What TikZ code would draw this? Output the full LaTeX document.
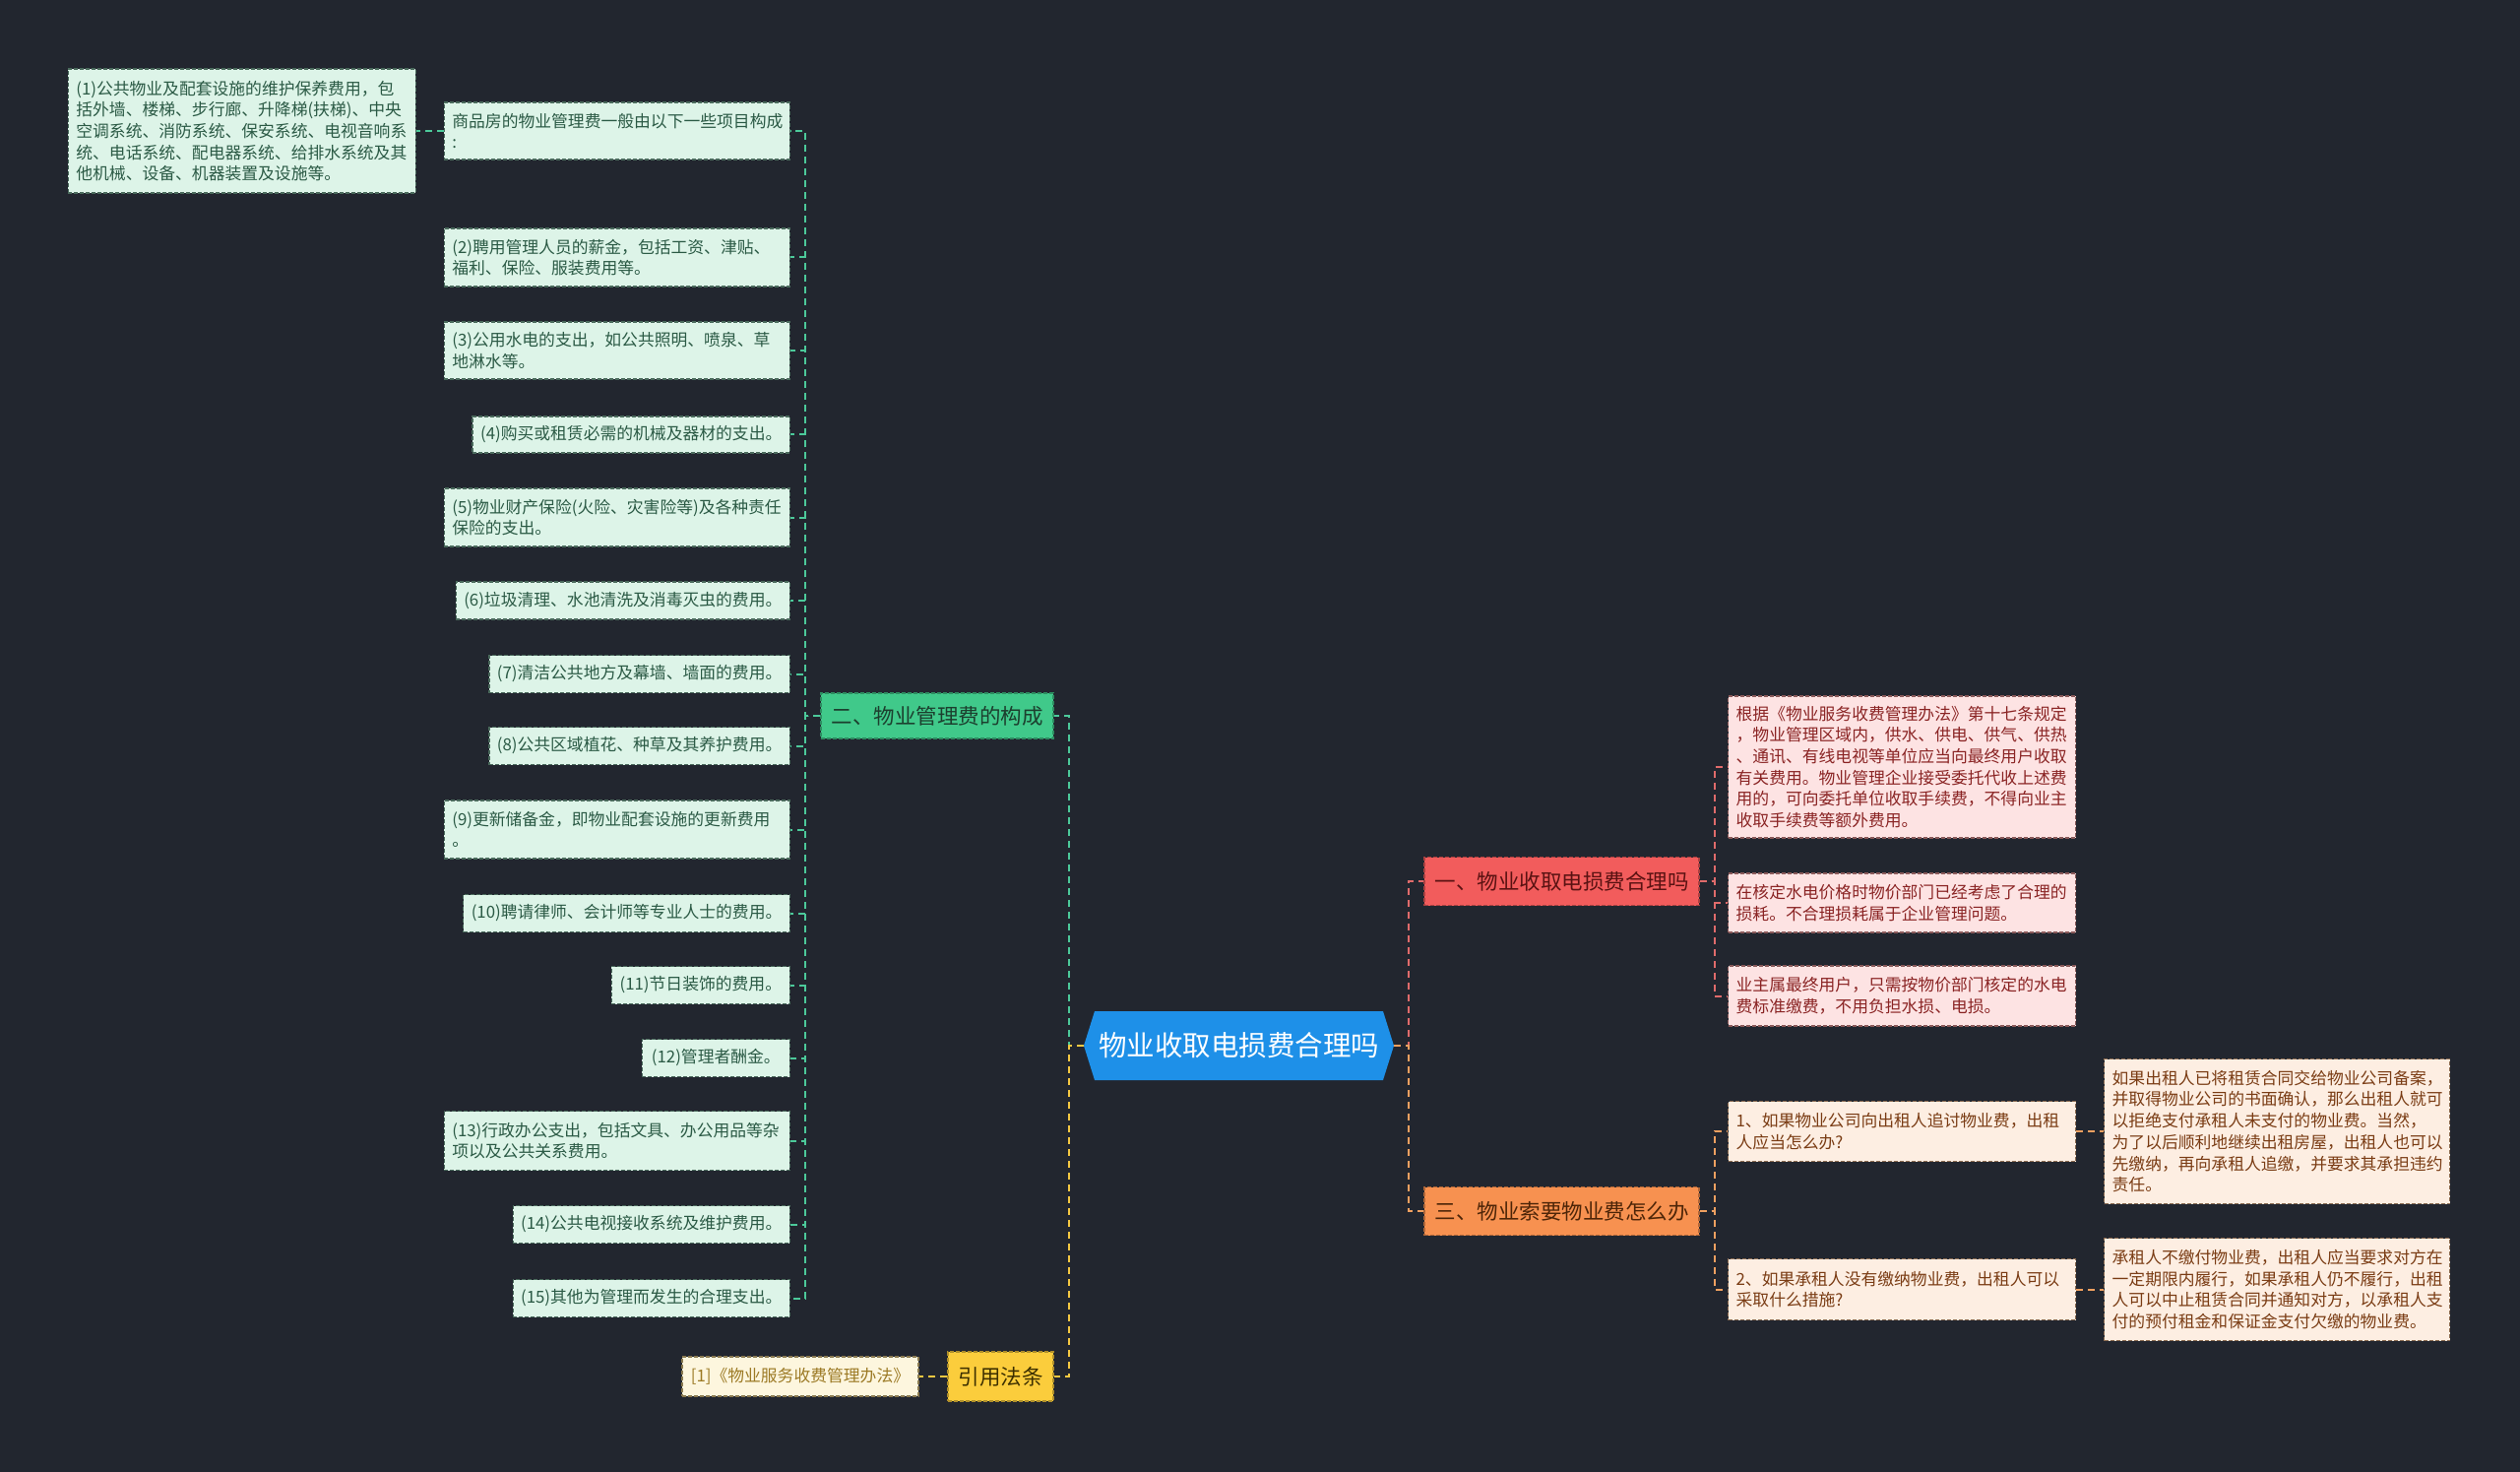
\documentclass[tikz,border=0pt]{standalone}
\usepackage{fontspec}
\setmainfont{Noto Sans CJK SC}
\usetikzlibrary{calc}
\definecolor{bgc}{HTML}{22262F}
\definecolor{rootc}{HTML}{1E90E8}
\definecolor{gfill}{HTML}{DDF4E8}
\definecolor{gtext}{HTML}{2B5A45}
\definecolor{gbd}{HTML}{4A6A5C}
\definecolor{gbrf}{HTML}{40C98A}
\definecolor{gbrt}{HTML}{1C3F2E}
\definecolor{gline}{HTML}{4CC99A}
\definecolor{rbrf}{HTML}{F25C5C}
\definecolor{rbrt}{HTML}{5A1212}
\definecolor{rfill}{HTML}{FDE3E3}
\definecolor{rtext}{HTML}{8A2424}
\definecolor{rbd}{HTML}{8A5A5A}
\definecolor{rline}{HTML}{E06B6B}
\definecolor{obrf}{HTML}{F79150}
\definecolor{obrt}{HTML}{4D2508}
\definecolor{ofill}{HTML}{FDEEE2}
\definecolor{otext}{HTML}{7A3C14}
\definecolor{obd}{HTML}{8A6A50}
\definecolor{oline}{HTML}{F0A060}
\definecolor{ybrf}{HTML}{FBCD3C}
\definecolor{ybrt}{HTML}{3D3000}
\definecolor{yfill}{HTML}{FDF6DE}
\definecolor{ytext}{HTML}{9C7A25}
\definecolor{ybd}{HTML}{8A7A50}
\definecolor{yline}{HTML}{F5C842}
\newcommand\lffont{\fontsize{16.8}{21.7}\selectfont}
\newcommand\brfont{\fontsize{21.5}{26}\selectfont}
\newcommand\rtfont{\fontsize{28.5}{34}\selectfont}
\tikzset{
  leafbox/.style={draw, dash pattern=on 4pt off 2pt, line width=1.3pt, inner xsep=8pt, inner ysep=4pt, align=left, font=\lffont},
  gleaf/.style={leafbox, fill=gfill, draw=gbd, text=gtext},
  rleaf/.style={leafbox, fill=rfill, draw=rbd, text=rtext},
  oleaf/.style={leafbox, fill=ofill, draw=obd, text=otext},
  yleaf/.style={leafbox, fill=yfill, draw=ybd, text=ytext},
  brbox/.style={draw, dash pattern=on 4pt off 2pt, line width=1.3pt, inner sep=6pt, font=\brfont},
  gbranch/.style={brbox, fill=gbrf, draw=gbrf!70!black, text=gbrt},
  rbranch/.style={brbox, fill=rbrf, draw=rbrf!70!black, text=rbrt},
  obranch/.style={brbox, fill=obrf, draw=obrf!70!black, text=obrt},
  ybranch/.style={brbox, fill=ybrf, draw=ybrf!70!black, text=ybrt},
  conn/.style={line width=2pt, dash pattern=on 7pt off 5pt},
  gconn/.style={conn, draw=gline},
  rconn/.style={conn, draw=rline},
  oconn/.style={conn, draw=oline},
  yconn/.style={conn, draw=yline},
}
\begin{document}
\begin{tikzpicture}[x=1pt,y=-1pt]
\fill[bgc] (0,0) rectangle (2560,1495);
\useasboundingbox (0,0) rectangle (2560,1495);

% root
\fill[rootc] (1101,1062) -- (1112,1027) -- (1405,1027) -- (1416,1062) -- (1405,1097) -- (1112,1097) -- cycle;
\node[font=\rtfont, text=white, minimum width=315pt, minimum height=70pt, inner sep=0pt] (root) at (1258.5,1062) {物业收取电损费合理吗};

% branches
\node[gbranch, minimum width=236pt, minimum height=46pt] (gbr) at (952,727) {二、物业管理费的构成};
\node[rbranch, minimum width=279pt, minimum height=49pt] (rbr) at (1586.5,895) {一、物业收取电损费合理吗};
\node[obranch, minimum width=279pt, minimum height=49pt] (obr) at (1586.5,1230) {三、物业索要物业费怎么办};
\node[ybranch, minimum width=107pt, minimum height=50pt] (ybr) at (1016.5,1398) {引用法条};
\node[yleaf, minimum width=240pt, minimum height=40pt] (y1) at (813,1398) {[1]《物业服务收费管理办法》};

% green leaves
\node[gleaf, anchor=east, text width=335pt, minimum height=58pt] (gA) at (803,133) {商品房的物业管理费一般由以下一些项目构成\\:};
\node[gleaf, anchor=east, text width=337pt, minimum height=126pt] (g1) at (423,133) {(1)公共物业及配套设施的维护保养费用，包\\括外墙、楼梯、步行廊、升降梯(扶梯)、中央\\空调系统、消防系统、保安系统、电视音响系\\统、电话系统、配电器系统、给排水系统及其\\他机械、设备、机器装置及设施等。};
\node[gleaf, anchor=east, text width=335pt, minimum height=59pt] (g2) at (803,261.5) {(2)聘用管理人员的薪金，包括工资、津贴、\\福利、保险、服装费用等。};
\node[gleaf, anchor=east, text width=335pt, minimum height=58pt] (g3) at (803,356) {(3)公用水电的支出，如公共照明、喷泉、草\\地淋水等。};
\node[gleaf, anchor=east, minimum width=321pt, minimum height=37pt] (g4) at (803,441.5) {(4)购买或租赁必需的机械及器材的支出。};
\node[gleaf, anchor=east, text width=335pt, minimum height=59pt] (g5) at (803,525.5) {(5)物业财产保险(火险、灾害险等)及各种责任\\保险的支出。};
\node[gleaf, anchor=east, minimum width=338pt, minimum height=38pt] (g6) at (803,610) {(6)垃圾清理、水池清洗及消毒灭虫的费用。};
\node[gleaf, anchor=east, minimum width=305pt, minimum height=38pt] (g7) at (803,684.5) {(7)清洁公共地方及幕墙、墙面的费用。};
\node[gleaf, anchor=east, minimum width=305pt, minimum height=38pt] (g8) at (803,757.5) {(8)公共区域植花、种草及其养护费用。};
\node[gleaf, anchor=east, text width=335pt, minimum height=59pt] (g9) at (803,842.5) {(9)更新储备金，即物业配套设施的更新费用\\。};
\node[gleaf, anchor=east, minimum width=331pt, minimum height=38pt] (g10) at (803,927.5) {(10)聘请律师、会计师等专业人士的费用。};
\node[gleaf, anchor=east, minimum width=181pt, minimum height=38pt] (g11) at (803,1000.5) {(11)节日装饰的费用。};
\node[gleaf, anchor=east, minimum width=150pt, minimum height=38pt] (g12) at (803,1074.5) {(12)管理者酬金。};
\node[gleaf, anchor=east, text width=335pt, minimum height=60pt] (g13) at (803,1158.5) {(13)行政办公支出，包括文具、办公用品等杂\\项以及公共关系费用。};
\node[gleaf, anchor=east, minimum width=281pt, minimum height=38pt] (g14) at (803,1243.5) {(14)公共电视接收系统及维护费用。};
\node[gleaf, anchor=east, minimum width=281pt, minimum height=38pt] (g15) at (803,1318.5) {(15)其他为管理而发生的合理支出。};

% red leaves
\node[rleaf, anchor=west, text width=337pt, minimum height=144pt] (r1) at (1755,779) {根据《物业服务收费管理办法》第十七条规定\\，物业管理区域内，供水、供电、供气、供热\\、通讯、有线电视等单位应当向最终用户收取\\有关费用。物业管理企业接受委托代收上述费\\用的，可向委托单位收取手续费，不得向业主\\收取手续费等额外费用。};
\node[rleaf, anchor=west, text width=337pt, minimum height=60pt] (r2) at (1755,917) {在核定水电价格时物价部门已经考虑了合理的\\损耗。不合理损耗属于企业管理问题。};
\node[rleaf, anchor=west, text width=337pt, minimum height=61pt] (r3) at (1755,1011.5) {业主属最终用户，只需按物价部门核定的水电\\费标准缴费，不用负担水损、电损。};

% orange leaves
\node[oleaf, anchor=west, text width=337pt, minimum height=61pt] (o1) at (1755,1149) {1、如果物业公司向出租人追讨物业费，出租\\人应当怎么办?};
\node[oleaf, anchor=west, text width=337pt, minimum height=62pt] (o2) at (1755,1309.5) {2、如果承租人没有缴纳物业费，出租人可以\\采取什么措施?};
\node[oleaf, anchor=west, text width=335pt, minimum height=147pt] (o1a) at (2137,1149) {如果出租人已将租赁合同交给物业公司备案，\\并取得物业公司的书面确认，那么出租人就可\\以拒绝支付承租人未支付的物业费。当然，\\为了以后顺利地继续出租房屋，出租人也可以\\先缴纳，再向承租人追缴，并要求其承担违约\\责任。};
\node[oleaf, anchor=west, text width=335pt, minimum height=104pt] (o2a) at (2137,1309.5) {承租人不缴付物业费，出租人应当要求对方在\\一定期限内履行，如果承租人仍不履行，出租\\人可以中止租赁合同并通知对方，以承租人支\\付的预付租金和保证金支付欠缴的物业费。};

% connectors root
\draw[gconn] (root.west) -- ++(-15,0) |- (gbr.east);
\draw[yconn] (root.west) -- ++(-15,0) |- (ybr.east);
\draw[rconn] (root.east) -- ++(15,0) |- (rbr.west);
\draw[oconn] (root.east) -- ++(15,0) |- (obr.west);

% green
\foreach \n in {gA,g2,g3,g4,g5,g6,g7,g8,g9,g10,g11,g12,g13,g14,g15}
  \draw[gconn] (gbr.west) -- ++(-15,0) |- (\n.east);
\draw[gconn] (gA.west) -- (g1.east);

% red
\foreach \n in {r1,r2,r3}
  \draw[rconn] (rbr.east) -- ++(15,0) |- (\n.west);

% orange
\foreach \n in {o1,o2}
  \draw[oconn] (obr.east) -- ++(15,0) |- (\n.west);
\draw[oconn] (o1.east) -- (o1a.west);
\draw[oconn] (o2.east) -- (o2a.west);

% yellow
\draw[yconn] (ybr.west) -- (y1.east);
\end{tikzpicture}
\end{document}
